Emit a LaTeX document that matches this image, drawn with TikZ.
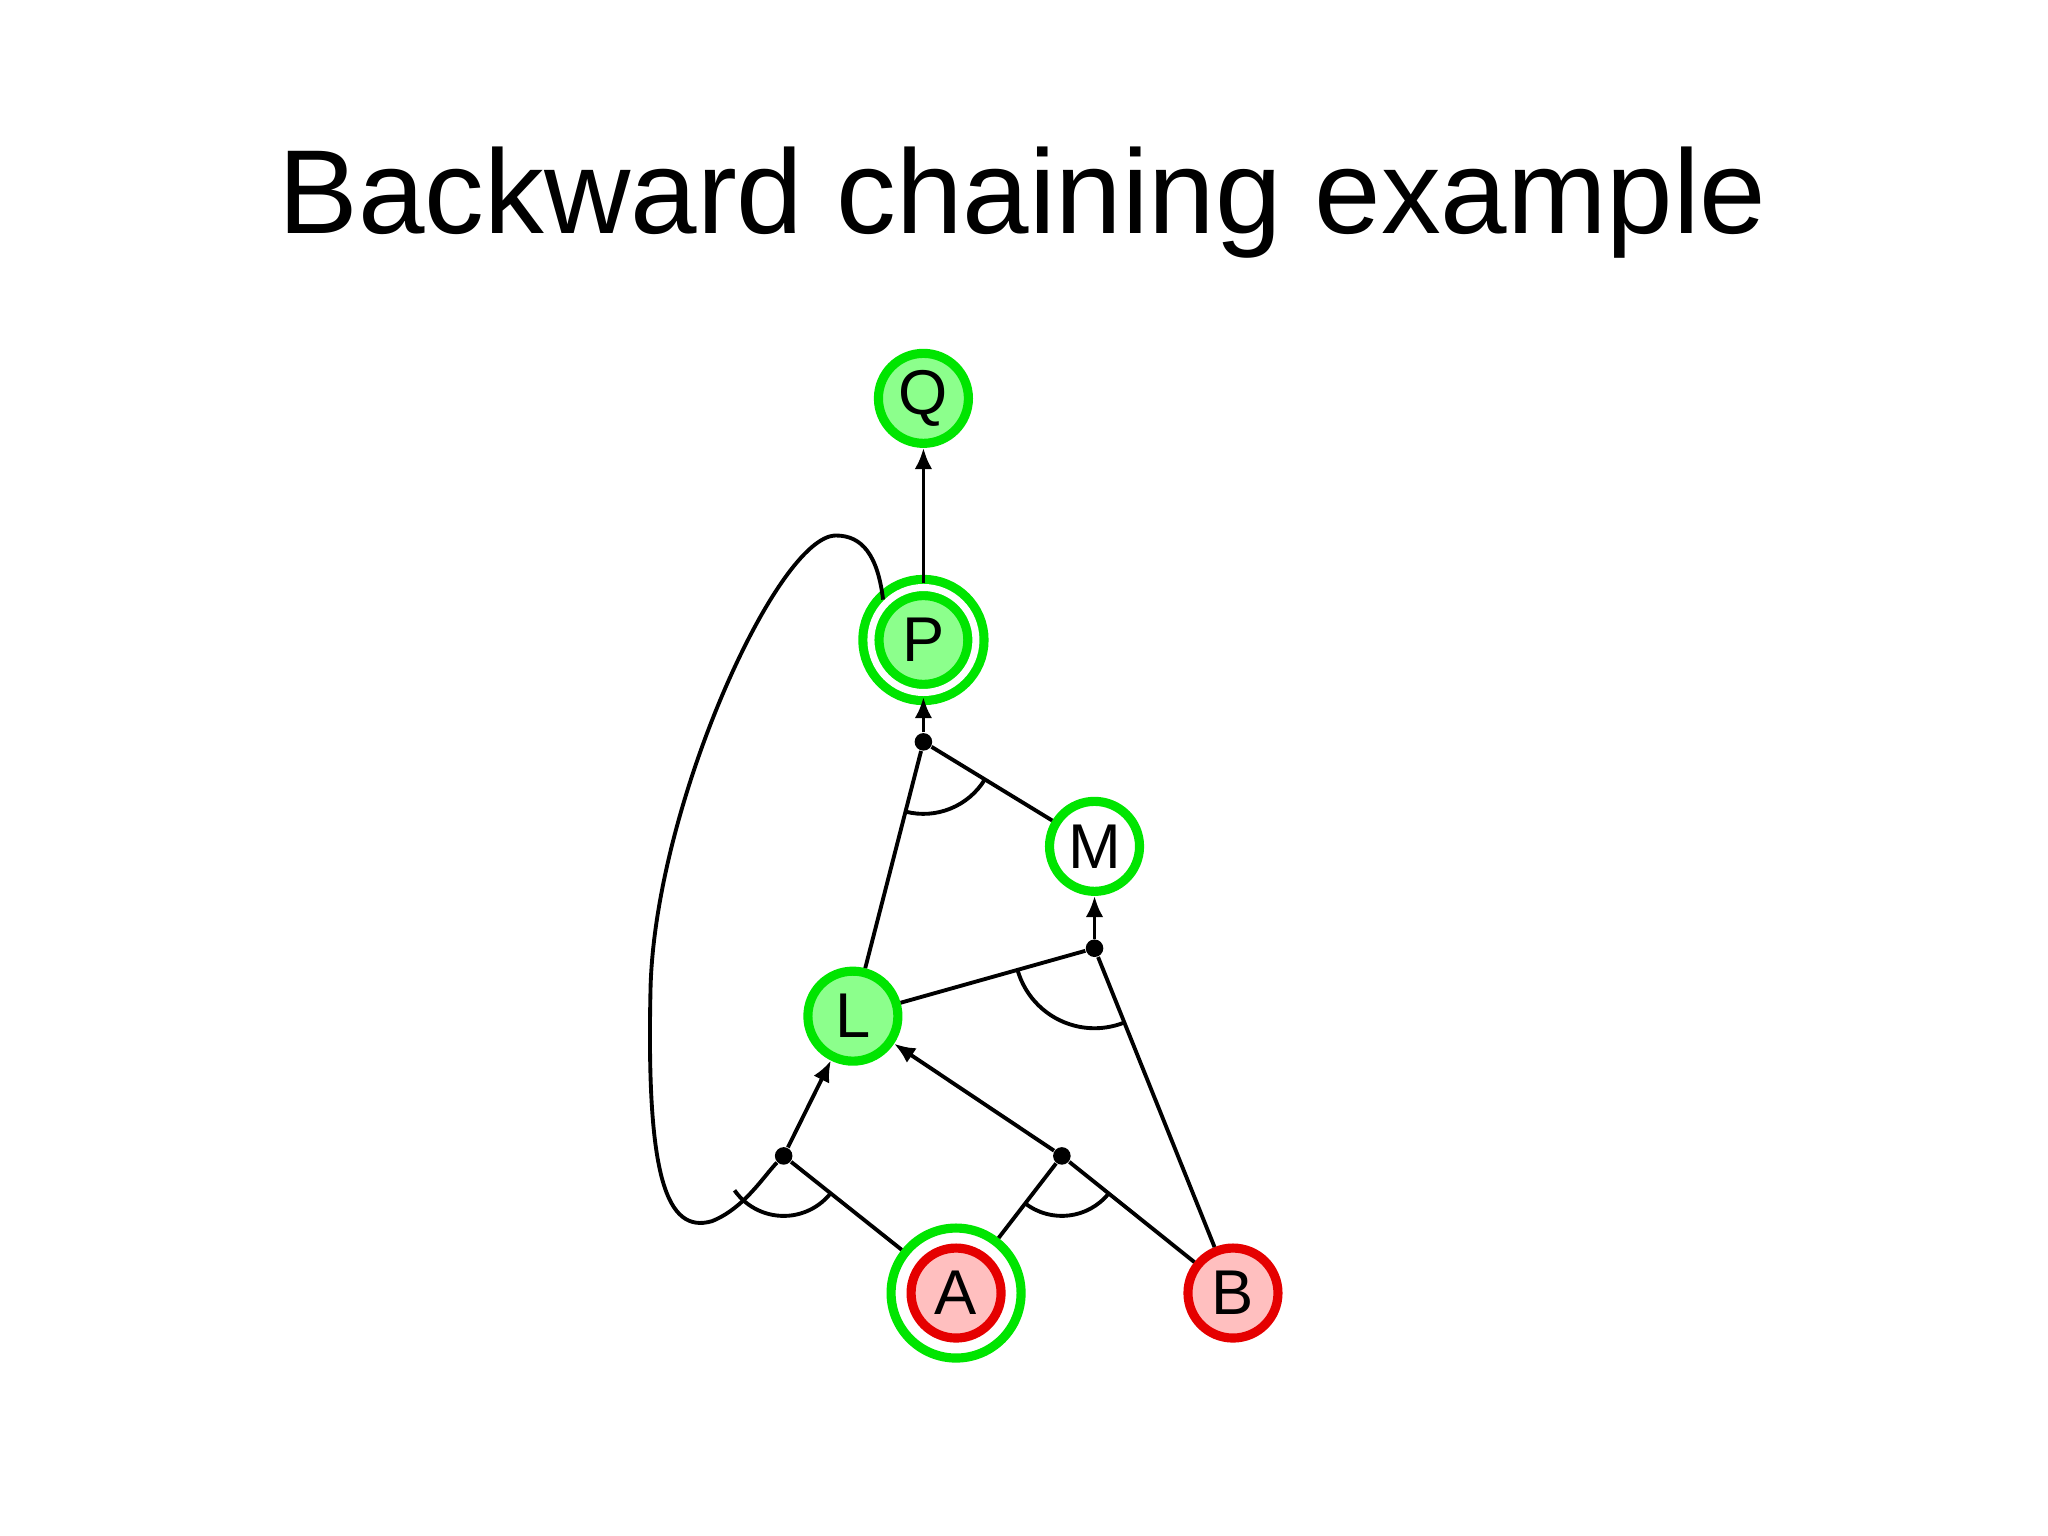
\documentclass[tikz,border=0pt]{standalone}
\usepackage{fontspec}
\setmainfont{Liberation Sans}
\usetikzlibrary{arrows.meta}
\begin{document}
\begin{tikzpicture}[x=0.01306cm,y=-0.01306cm,
  st/.style={circle,inner sep=0pt,minimum size=0.9cm,line width=2.6pt,font=\fontsize{18}{20}\selectfont},
  gn/.style={st,draw=green!90!black,fill=green!45},
  rd/.style={st,draw=red!90!black,fill=red!25},
  jn/.style={circle,fill=black,inner sep=0pt,minimum size=5pt},
  ed/.style={line width=1.1pt},
  ar/.style={ed,-{Latex[length=6pt,width=5pt]}}]
\useasboundingbox (0,0) rectangle (1568,1176);
\node (title) at (783,155) {\fontsize{34}{40}\selectfont Backward chaining example};
\node[gn] (Q) at (707,305) {Q};
\node[gn,double=white,double distance=2pt,minimum size=1.05cm] (P) at (707,490) {P};
\node[gn,fill=white] (M) at (838,648) {M};
\node[gn] (L) at (653,778) {L};
\node[circle,draw=green!90!black,line width=2.6pt,minimum size=1.3cm] (Ao) at (732,990) {};
\node[rd] (A) at (732,990) {A};
\node[rd] (B) at (944,990) {B};
\node[jn] (j1) at (707,568) {};
\node[jn] (j2) at (838,726) {};
\node[jn] (j3) at (600,885) {};
\node[jn] (j4) at (813,885) {};
\draw[ar] (P) -- (Q);
\draw[ar] (j1) -- (P);
\draw[ed] (j1) -- (M);
\draw[ed] (j1) -- (L);
\draw[ar] (j2) -- (M);
\draw[ed] (j2) -- (L);
\draw[ed] (j2) -- (B);
\draw[ar] (j3) -- (L);
\draw[ed] (j3) -- (Ao);
\draw[ar] (j4) -- (L);
\draw[ed] (j4) -- (Ao);
\draw[ed] (j4) -- (B);
\coordinate (c1) at (640,410);
\draw[ed] (P.north west) .. controls (672,425) and (660,410) .. (c1)
  .. controls (595,410) and (500,620) .. (498,760)
  .. controls (495,900) and (510,945) .. (545,935)
  .. controls (570,925) and (585,900) .. (j3);
\draw[ed] (j1) ++(255.6:0.72cm) arc[start angle=255.6,end angle=328.6,radius=0.72cm];
\draw[ed] (j2) ++(195.7:0.8cm) arc[start angle=195.7,end angle=291.9,radius=0.8cm];
\draw[ed] (j3) ++(215:0.6cm) arc[start angle=215,end angle=321.5,radius=0.6cm];
\draw[ed] (j4) ++(232.4:0.6cm) arc[start angle=232.4,end angle=321.3,radius=0.6cm];
\end{tikzpicture}
\end{document}
